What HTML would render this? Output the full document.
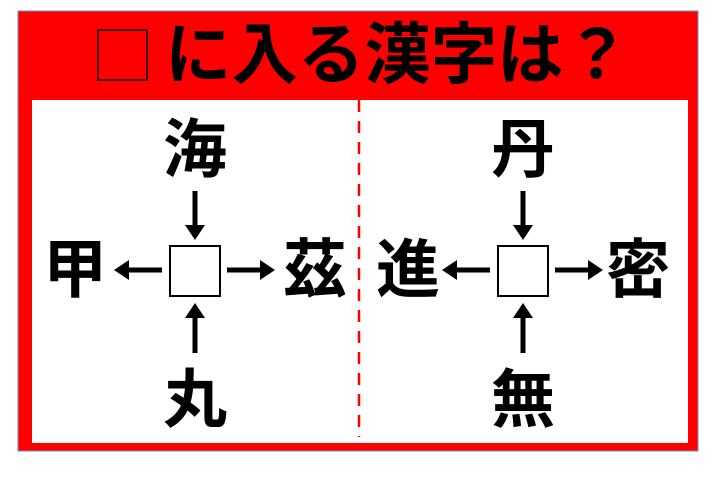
<!DOCTYPE html>
<html><head><meta charset="utf-8"><style>
html,body{margin:0;padding:0;background:#fff;width:720px;height:493px;overflow:hidden}
svg text{font-family:"Liberation Sans","Noto Sans CJK JP",sans-serif;font-weight:bold}
</style></head><body>
<svg width="720" height="493" viewBox="0 0 720 493" xmlns="http://www.w3.org/2000/svg">
<defs>
<marker id="ah" markerWidth="4" markerHeight="4" refX="1" refY="2" orient="auto" markerUnits="strokeWidth">
<path d="M0,0 L3,2 L0,4 z" fill="#000"/></marker>
</defs>
<rect x="18" y="11" width="680" height="440" fill="#ff0000" stroke="#6f8fbf" stroke-width="1"/>
<rect x="32" y="100" width="656" height="343" fill="#fff"/>
<line x1="359" y1="100" x2="359" y2="437" stroke="#ff0000" stroke-width="2.5" stroke-dasharray="12,9"/>
<rect x="98" y="30" width="49" height="50" fill="none" stroke="#000" stroke-width="1.5"/>
<text x="165" y="78" font-size="67" fill="#000" textLength="465" lengthAdjust="spacingAndGlyphs">に入る漢字は？</text>
<g font-size="64" text-anchor="middle" fill="#000">
<text x="195" y="172">海</text>
<text x="75" y="292">甲</text>
<text x="315" y="292">茲</text>
<text x="195" y="422">丸</text>
<text x="523" y="172">丹</text>
<text x="408" y="292">進</text>
<text x="638" y="292">密</text>
<text x="523" y="422">無</text>
</g>
<g stroke="#000" stroke-width="5" marker-end="url(#ah)">
<line x1="195" y1="191" x2="195" y2="230"/>
<line x1="195" y1="353" x2="195" y2="313"/>
<line x1="162" y1="270" x2="124" y2="270"/>
<line x1="227" y1="270" x2="265" y2="270"/>
<line x1="523" y1="191" x2="523" y2="230"/>
<line x1="523" y1="353" x2="523" y2="313"/>
<line x1="490" y1="270" x2="452" y2="270"/>
<line x1="555" y1="270" x2="593" y2="270"/>
</g>
<rect x="170" y="246" width="50" height="50" fill="#fff" stroke="#000" stroke-width="2"/>
<rect x="498" y="246" width="50" height="50" fill="#fff" stroke="#000" stroke-width="2"/>
</svg>
</body></html>
